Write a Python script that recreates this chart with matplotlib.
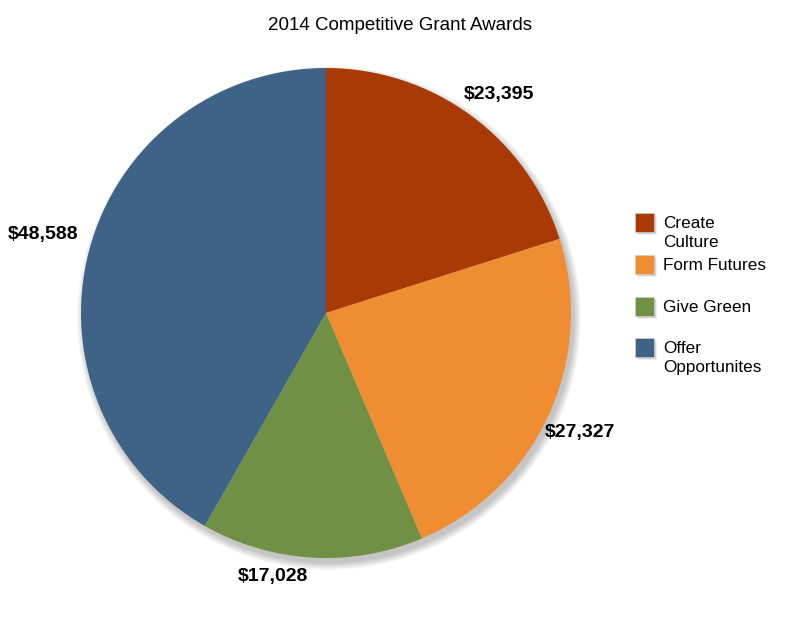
import numpy as np
import matplotlib.pyplot as plt
from matplotlib.patches import Circle, Rectangle

plt.rcParams['font.family'] = ['Liberation Sans', 'DejaVu Sans']

# data
categories = ['Create\nCulture', 'Form Futures', 'Give Green', 'Offer\nOpportunites']
awards = [23395, 27327, 17028, 48588]
colors = ['#A93A06', '#F08D32', '#6F9045', '#3F6387']

fig = plt.figure(figsize=(8, 6.17), dpi=100)
ax = fig.add_axes([0, 0, 1, 1])

cx, cy, r = 326, 304, 245

# soft drop shadow
for k in range(10):
    ax.add_patch(Circle((cx + 3, cy - 5), r + 7 - k * 0.8, color='black',
                        alpha=0.025, lw=0, zorder=0))

wedges, texts = ax.pie(awards, colors=colors, startangle=90, counterclock=False,
                       center=(cx, cy), radius=r, frame=True,
                       labels=['${:,}'.format(v) for v in awards],
                       labeldistance=1.14,
                       textprops=dict(fontsize=14, fontweight='bold'),
                       wedgeprops=dict(linewidth=0))
ax.set_xlim(0, 800)
ax.set_ylim(0, 617)
ax.set_aspect('equal')
ax.axis('off')

# label positions (text centres, pixels from top)
label_pos = [(499, 95), (580, 432), (273, 577), (43, 235)]
for t, (x, y) in zip(texts, label_pos):
    t.set_position((x, 617 - y))
    t.set_ha('center')
    t.set_va('center')

ax.text(400, 617 - 25, '2014 Competitive Grant Awards', ha='center', va='center',
        fontsize=13.5)

# legend
leg_tops = [213, 255, 297, 338]
for name, col, top in zip(categories, colors, leg_tops):
    for k in range(4):
        ax.add_patch(Rectangle((635 + 1 + k * 0.6, 617 - top - 19 - 1 - k * 0.6), 19, 19,
                               color='black', alpha=0.06, lw=0))
    ax.add_patch(Rectangle((635, 617 - top - 19), 19, 19, facecolor=col,
                           edgecolor='#d0d0d0', lw=0.5))
    ax.text(663, 617 - top - 3, name, ha='left', va='top', fontsize=12.3,
            linespacing=1.3)

fig.savefig('out.png', dpi=100)
